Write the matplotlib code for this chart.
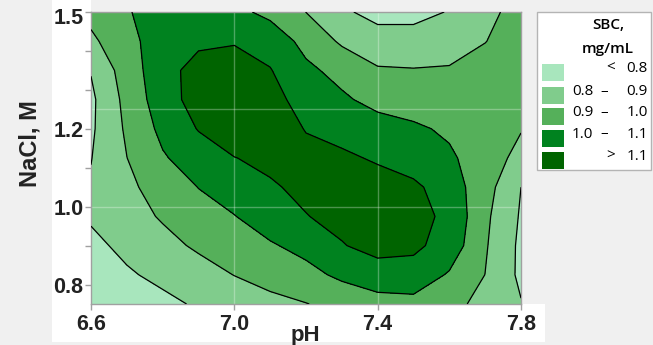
import matplotlib
matplotlib.use("Agg")
import matplotlib.pyplot as plt
from matplotlib.patches import Rectangle
from matplotlib.transforms import ScaledTranslation

# pH levels (columns) and NaCl concentration (rows) of the response grid
ph = [6.6, 6.7, 6.8, 6.9, 7.0, 7.1, 7.2, 7.3, 7.4, 7.5, 7.6, 7.7, 7.8]
nacl = [0.75, 0.825, 0.9, 0.975, 1.05, 1.125, 1.2, 1.275, 1.35, 1.425, 1.5]

# SBC (mg/mL) on the grid, one row per NaCl level (bottom to top)
sbc = [
    [0.740, 0.760, 0.780, 0.810, 0.840, 0.870, 0.897, 0.930, 0.960, 0.970, 0.930, 0.870, 0.805],
    [0.765, 0.790, 0.820, 0.860, 0.902, 0.940, 0.970, 1.020, 1.060, 1.060, 0.990, 0.899, 0.780],
    [0.780, 0.820, 0.870, 0.915, 0.950, 0.990, 1.030, 1.095, 1.130, 1.120, 1.060, 0.910, 0.780],
    [0.810, 0.860, 0.910, 0.960, 0.997, 1.050, 1.097, 1.125, 1.140, 1.130, 1.080, 0.920, 0.790],
    [0.810, 0.880, 0.940, 1.002, 1.045, 1.090, 1.120, 1.135, 1.135, 1.120, 1.050, 0.940, 0.800],
    [0.797, 0.899, 0.990, 1.050, 1.098, 1.120, 1.130, 1.115, 1.090, 1.050, 1.015, 0.950, 0.870],
    [0.785, 0.915, 1.025, 1.105, 1.150, 1.160, 1.095, 1.070, 1.040, 1.015, 0.985, 0.940, 0.905],
    [0.780, 0.930, 1.055, 1.140, 1.150, 1.130, 1.065, 1.015, 0.970, 0.955, 0.950, 0.945, 0.930],
    [0.805, 0.950, 1.060, 1.140, 1.130, 1.105, 1.020, 0.970, 0.910, 0.905, 0.910, 0.930, 0.950],
    [0.880, 0.970, 1.050, 1.080, 1.095, 1.060, 0.970, 0.885, 0.840, 0.840, 0.850, 0.898, 0.940],
    [0.930, 0.995, 1.030, 1.040, 1.025, 0.975, 0.899, 0.815, 0.770, 0.770, 0.805, 0.885, 0.920],
]

band_edges = [0.5, 0.8, 0.9, 1.0, 1.1, 1.5]
band_colors = ["#a8e6bd", "#80cc8c", "#55b05a", "#00821f", "#006400"]
band_low = ["", "0.8", "0.9", "1.0", ""]
band_sign = ["<", "\u2013", "\u2013", "\u2013", ">"]
band_high = ["0.8", "0.9", "1.0", "1.1", "1.1"]

x_ticks = [6.6, 7.0, 7.4, 7.8]
x_tick_labels = ["6.6", "7.0", "7.4", "7.8"]
y_ticks = [0.8, 0.9, 1.0, 1.1, 1.2, 1.3, 1.4, 1.5]
y_tick_labels = ["0.8", "", "1.0", "", "1.2", "", "", "1.5"]
grid_x = [7.0, 7.4]
grid_y = [1.0, 1.25]

W, H = 653, 345
fig = plt.figure(figsize=(W / 100, H / 100), dpi=100, facecolor="#f0f0f0")


def fx(px):
    return px / W


def fy(py):
    return 1 - py / H


def frect(x0, y0, x1, y1, **kw):
    r = Rectangle((fx(x0), fy(y1)), fx(x1) - fx(x0), fy(y0) - fy(y1),
                  transform=fig.transFigure, **kw)
    fig.patches.append(r)
    return r


# white panels behind the tick labels (drawn beneath the axes)
frect(52, 0, 91, 305, facecolor="white", edgecolor="none", zorder=-2)
frect(52, 304, 545, 342, facecolor="white", edgecolor="none", zorder=-2)

ax = fig.add_axes([fx(91), fy(304), fx(521) - fx(91), fy(12) - fy(304)])
ax.contourf(ph, nacl, sbc, levels=band_edges, colors=band_colors, zorder=1)
for gx in grid_x:
    ax.axvline(gx, color="white", alpha=0.3, lw=1, zorder=2)
for gy in grid_y:
    ax.axhline(gy, color="white", alpha=0.3, lw=1, zorder=2)
ax.contour(ph, nacl, sbc, levels=band_edges[1:-1], colors="black",
           linewidths=0.9, zorder=3)

ax.set_xlim(6.6, 7.8)
ax.set_ylim(0.75, 1.5)

tick_kw = dict(fontfamily="Liberation Sans", fontweight="bold",
               fontsize=15.5, color="#222222")
ax.set_xticks(x_ticks, labels=x_tick_labels, **tick_kw)
ax.set_yticks(y_ticks, labels=y_tick_labels, **tick_kw)
ax.tick_params(axis="both", direction="out", length=4, width=1,
               color="#a0a0a0")
ax.tick_params(axis="x", pad=3)
ax.tick_params(axis="y", pad=1.5)
for sp in ax.spines.values():
    sp.set_color("#a0a0a0")
    sp.set_linewidth(1)

# nudge the top y label down so it sits inside the panel
top_lab = ax.get_yticklabels()[-1]
top_lab.set_transform(top_lab.get_transform()
                      + ScaledTranslation(0, -0.04, fig.dpi_scale_trans))

fig.text(fx(305), fy(325), "pH", ha="center", va="top", color="#222222",
         family="Liberation Sans", weight="bold", size=16)
fig.text(fx(30), fy(143.5), "NaCl, M", ha="center", va="center",
         rotation=90, color="#222222", family="Liberation Sans",
         weight="bold", size=17)

# legend panel
frect(537, 12, 651, 170, facecolor="white", edgecolor="#b4b4b4", lw=1,
      zorder=1)
leg_font = dict(family="Open Sans", size=11, color="#000000")
fig.text(fx(608), fy(25), "SBC,", ha="center", va="center",
         weight="semibold", **leg_font)
fig.text(fx(608), fy(48.5), "mg/mL", ha="center", va="center",
         weight="semibold", **leg_font)
sw_top = [64, 87.3, 108, 130, 151.7]
txt_y = [68, 91.5, 112.7, 134, 156]
for i in range(len(band_colors)):
    frect(542, sw_top[i], 563.5, sw_top[i] + 17, facecolor=band_colors[i],
          edgecolor="none", zorder=2)
    if band_low[i]:
        fig.text(fx(582.5), fy(txt_y[i]), band_low[i], ha="center",
                 va="center", **leg_font)
        sx = 604
    else:
        sx = 610.5
    fig.text(fx(sx), fy(txt_y[i]), band_sign[i], ha="center", va="center",
             **leg_font)
    fig.text(fx(647.7), fy(txt_y[i]), band_high[i], ha="right",
             va="center", **leg_font)

fig.savefig("out.png", dpi=100, facecolor=fig.get_facecolor())
